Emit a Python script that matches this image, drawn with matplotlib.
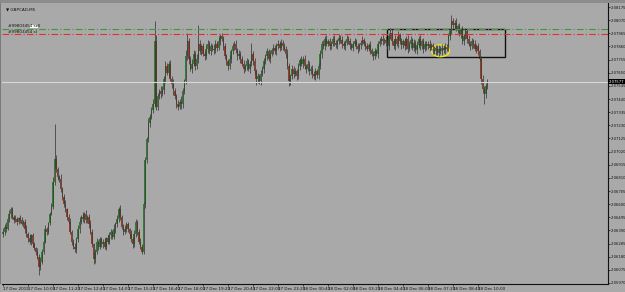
import numpy as np
import matplotlib
matplotlib.use("Agg")
import matplotlib.pyplot as plt
from matplotlib.patches import Rectangle, Ellipse

plt.rcParams["font.family"] = ["Liberation Sans Narrow", "DejaVu Sans"]

# GBPCAD M5, 17 Dec 08:40 -> 18 Dec 10:30, values in pips above 2.0600
base = 2.0600
first_open = 36
close_pips = [
    38, 42, 40, 48, 52, 56, 50, 47, 48, 46, 49, 47, 44, 46, 40, 36,
    33, 30, 35, 28, 25, 22, 18, 10, 14, 22, 30, 40, 38, 45, 52, 58,
    78, 96, 88, 82, 80, 72, 66, 60, 56, 50, 46, 38, 30, 26, 24, 32,
    40, 46, 50, 48, 52, 47, 50, 44, 38, 28, 16, 22, 30, 26, 32, 28,
    30, 26, 33, 30, 35, 38, 34, 40, 44, 48, 56, 50, 42, 38, 40, 44,
    40, 36, 32, 28, 36, 46, 38, 30, 26, 22, 60, 95, 112, 125, 130, 135,
    140, 190, 138, 146, 150, 148, 151, 160, 170, 165, 172, 160, 156, 150, 146, 140,
    138, 142, 140, 150, 158, 178, 190, 176, 168, 172, 180, 170, 176, 188, 182, 186,
    180, 178, 184, 188, 182, 186, 184, 183, 188, 185, 190, 194, 192, 186, 178, 174,
    170, 176, 182, 186, 188, 183, 178, 180, 176, 172, 168, 170, 174, 168, 172, 180,
    174, 166, 160, 162, 158, 164, 168, 174, 178, 182, 176, 180, 183, 185, 182, 186,
    188, 185, 189, 186, 184, 180, 170, 158, 162, 168, 164, 166, 162, 170, 175, 172,
    176, 170, 168, 172, 166, 168, 164, 162, 166, 163, 170, 180, 188, 186, 192, 188,
    190, 186, 188, 192, 189, 187, 190, 193, 191, 188, 186, 189, 192, 190, 187, 185,
    188, 190, 186, 184, 187, 189, 191, 188, 186, 184, 187, 183, 180, 178, 182, 180,
    188, 190, 192, 190, 191, 189, 186, 194, 197, 190, 186, 192, 188, 195, 190, 187,
    190, 186, 192, 184, 188, 191, 185, 189, 183, 187, 192, 186, 190, 184, 188, 186,
    188, 185, 187, 183, 182, 185, 181, 184, 182, 185, 183, 186, 184, 194, 198, 206,
    203, 205, 200, 202, 196, 199, 190, 194, 198, 192, 188, 186, 190, 188, 184, 186,
    182, 176, 160, 152, 148, 154, 158,
]
upper_wick = [
    3, 2, 4, 1, 3, 2, 2, 1, 3, 2, 1, 2, 3, 1, 2, 3,
    2, 3, 1, 2, 2, 1, 3, 2, 4, 2, 1, 3, 2, 1, 2, 3,
    4, 28, 3, 2, 1, 4, 2, 2, 3, 1, 2, 3, 1, 2, 3, 2,
    3, 2, 1, 4, 2, 3, 1, 2, 3, 2, 1, 2, 3, 1, 2, 2,
    2, 3, 1, 2, 3, 2, 1, 4, 2, 3, 2, 3, 1, 2, 3, 2,
    2, 1, 3, 2, 3, 2, 1, 2, 3, 2, 2, 3, 2, 4, 2, 3,
    4, 16, 5, 3, 2, 4, 3, 2, 4, 3, 2, 3, 2, 4, 3, 2,
    3, 2, 4, 3, 2, 5, 7, 3, 2, 4, 3, 2, 4, 15, 3, 2,
    3, 2, 4, 3, 2, 3, 2, 4, 3, 2, 3, 2, 3, 2, 3, 2,
    2, 3, 2, 3, 2, 3, 2, 3, 2, 2, 3, 2, 3, 2, 2, 9,
    2, 3, 2, 3, 2, 3, 2, 3, 2, 3, 2, 3, 2, 3, 2, 3,
    3, 2, 3, 2, 3, 2, 4, 3, 2, 3, 2, 3, 2, 3, 2, 3,
    2, 3, 2, 3, 2, 2, 3, 2, 3, 2, 3, 3, 2, 3, 2, 3,
    2, 3, 2, 2, 3, 2, 2, 3, 2, 3, 2, 2, 3, 2, 3, 2,
    2, 3, 2, 3, 2, 2, 3, 2, 2, 3, 2, 3, 2, 2, 3, 2,
    2, 3, 2, 3, 2, 3, 2, 3, 4, 3, 2, 3, 2, 3, 2, 3,
    2, 3, 2, 3, 2, 3, 2, 3, 2, 3, 2, 3, 2, 3, 2, 2,
    2, 3, 2, 2, 3, 2, 2, 3, 2, 3, 2, 3, 2, 3, 2, 5,
    3, 2, 4, 2, 3, 2, 3, 2, 3, 2, 3, 2, 3, 2, 3, 2,
    3, 2, 2, 3, 2, 3, 2,
]
lower_wick = [
    2, 3, 2, 1, 2, 3, 2, 2, 1, 3, 2, 2, 1, 2, 3, 2,
    3, 2, 3, 2, 2, 3, 2, 7, 3, 2, 2, 1, 3, 2, 2, 1,
    2, 3, 2, 3, 2, 2, 3, 2, 2, 3, 2, 2, 3, 2, 2, 3,
    2, 3, 2, 2, 3, 2, 2, 3, 2, 2, 4, 3, 2, 3, 2, 2,
    3, 2, 3, 2, 2, 3, 2, 2, 3, 2, 2, 3, 2, 3, 2, 2,
    2, 3, 2, 3, 2, 2, 3, 2, 2, 2, 2, 3, 2, 2, 3, 2,
    2, 2, 3, 3, 2, 3, 2, 3, 3, 2, 3, 2, 3, 3, 2, 3,
    3, 2, 4, 3, 2, 2, 3, 4, 2, 3, 2, 3, 2, 3, 2, 3,
    2, 3, 2, 3, 2, 3, 2, 3, 2, 3, 2, 3, 2, 3, 2, 3,
    3, 2, 3, 2, 3, 2, 3, 2, 3, 2, 3, 2, 3, 2, 3, 2,
    3, 2, 5, 3, 2, 3, 2, 3, 2, 3, 2, 3, 2, 3, 2, 3,
    2, 3, 2, 3, 2, 3, 2, 4, 3, 2, 3, 2, 3, 2, 3, 2,
    3, 2, 3, 2, 3, 2, 3, 2, 3, 2, 3, 2, 3, 2, 3, 2,
    2, 3, 2, 2, 3, 2, 3, 2, 2, 3, 2, 3, 2, 2, 3, 2,
    3, 2, 2, 3, 2, 3, 2, 2, 3, 2, 2, 3, 2, 3, 2, 2,
    3, 2, 2, 3, 2, 3, 2, 3, 2, 3, 2, 3, 2, 3, 2, 3,
    2, 3, 2, 3, 2, 3, 2, 3, 2, 3, 2, 3, 2, 3, 2, 3,
    2, 3, 2, 3, 2, 3, 2, 3, 2, 3, 2, 3, 2, 2, 3, 2,
    2, 3, 2, 3, 2, 3, 2, 3, 2, 3, 2, 3, 2, 3, 2, 3,
    3, 2, 4, 3, 8, 3, 2,
]

time_labels = ["17 Dec 2015", "17 Dec 10:00", "17 Dec 11:20", "17 Dec 12:40",
               "17 Dec 14:00", "17 Dec 15:20", "17 Dec 16:40", "17 Dec 18:00",
               "17 Dec 19:20", "17 Dec 20:40", "17 Dec 22:00", "17 Dec 23:20",
               "18 Dec 00:40", "18 Dec 02:00", "18 Dec 03:20", "18 Dec 04:40",
               "18 Dec 06:00", "18 Dec 07:20", "18 Dec 08:40", "18 Dec 10:00"]
bars_per_label = 16
price_ticks = ["2.08175", "2.08070", "2.07965", "2.07860", "2.07755", "2.07650",
               "2.07545", "2.07440", "2.07335", "2.07230", "2.07125", "2.07020",
               "2.06915", "2.06810", "2.06705", "2.06600", "2.06495", "2.06390",
               "2.06285", "2.06180", "2.06075", "2.05970"]

sell_level = 2.08000
sl_level = 2.07956
last_price = 2.07577
box_bars = (246, 321)
box_prices = (2.07772, 2.08000)
ellipse_bar, ellipse_price = 280, 2.07825

# ---- candles
c = np.array(close_pips, dtype=float)
o = np.concatenate(([first_open], c[:-1]))  # M5 bars open at the prior close
hi = np.maximum(o, c) + np.array(upper_wick)
lo = np.minimum(o, c) - np.array(lower_wick)
o, c, hi, lo = [base + a / 10000 for a in (o, c, hi, lo)]
x = np.arange(len(c))

bg = "#a9a9a9"
fig = plt.figure(figsize=(6.25, 2.92), dpi=100, facecolor=bg)
ax = fig.add_axes([2 / 625, 8 / 292, 606 / 625, 281 / 292], facecolor=bg)

ax.vlines(x, lo, hi, color="#3a3a3a", lw=0.55)
up = c >= o
ax.bar(x[up], (c - o)[up], bottom=o[up], width=0.9, color="#2f7f2f", lw=0)
ax.bar(x[~up], (o - c)[~up], bottom=c[~up], width=0.9, color="#9a3b22", lw=0)

ax.axhline(sell_level, color="#3a9a3a", lw=0.8, ls=(0, (6, 2, 1, 2)))
ax.axhline(sl_level, color="#e0302a", lw=0.8, ls=(0, (6, 2, 1, 2)))
ax.axhline(last_price, color="#d8d8d8", lw=0.8)

ax.add_patch(Rectangle((box_bars[0], box_prices[0]), box_bars[1] - box_bars[0],
                       box_prices[1] - box_prices[0], fill=False, ec="#111111", lw=1.0))
ax.add_patch(Ellipse((ellipse_bar, ellipse_price), 11.5, 0.00095,
                     fill=False, ec="#f0f000", lw=0.9))

ax.set_xlim(-0.6, 387.2)
ax.set_ylim(2.05962, 2.08207)

ax.set_xticks(np.arange(len(time_labels)) * bars_per_label)
ax.set_xticklabels(time_labels, ha="left", fontsize=3.0)
ax.set_yticks([float(t) for t in price_ticks])
ax.set_yticklabels(price_ticks, fontsize=2.7)
ax.yaxis.tick_right()
ax.tick_params(axis="both", length=1.4, width=0.5, pad=0.6, colors="#111111")
for side in ("top", "left"):
    ax.spines[side].set_visible(False)
for side in ("right", "bottom"):
    ax.spines[side].set_color("#111111")
    ax.spines[side].set_linewidth(0.8)

# labels on the chart
ax.text(0.006, 0.985, "\u25bc GBPCAD,M5", transform=ax.transAxes, fontsize=3.0,
        va="top", ha="left", color="#111111", family=["DejaVu Sans"])
ax.text(3, sell_level + 0.00004, "#99803454 sell", fontsize=3, va="bottom", color="#111111")
ax.add_patch(Rectangle((17.5, sell_level + 0.00004), 5, 0.0003, fc="white", ec="none"))
ax.text(3, sl_level + 0.00004, "#99803454 sl", fontsize=3, va="bottom", color="#111111")

ax.text(1.0015, last_price, "2.07577", transform=ax.get_yaxis_transform(), fontsize=2.7,
        va="center", ha="left", color="white",
        bbox=dict(boxstyle="square,pad=0.15", fc="black", ec="none"))

fig.patches.append(Rectangle((0, 289 / 292), 1, 3 / 292, transform=fig.transFigure,
                             fc="#8c8c8c", ec="none"))
fig.patches.append(Rectangle((0, 8 / 292), 1.5 / 625, 281 / 292, transform=fig.transFigure,
                             fc="#7a7a7a", ec="none"))

fig.savefig("out.png", dpi=100, facecolor=bg)
